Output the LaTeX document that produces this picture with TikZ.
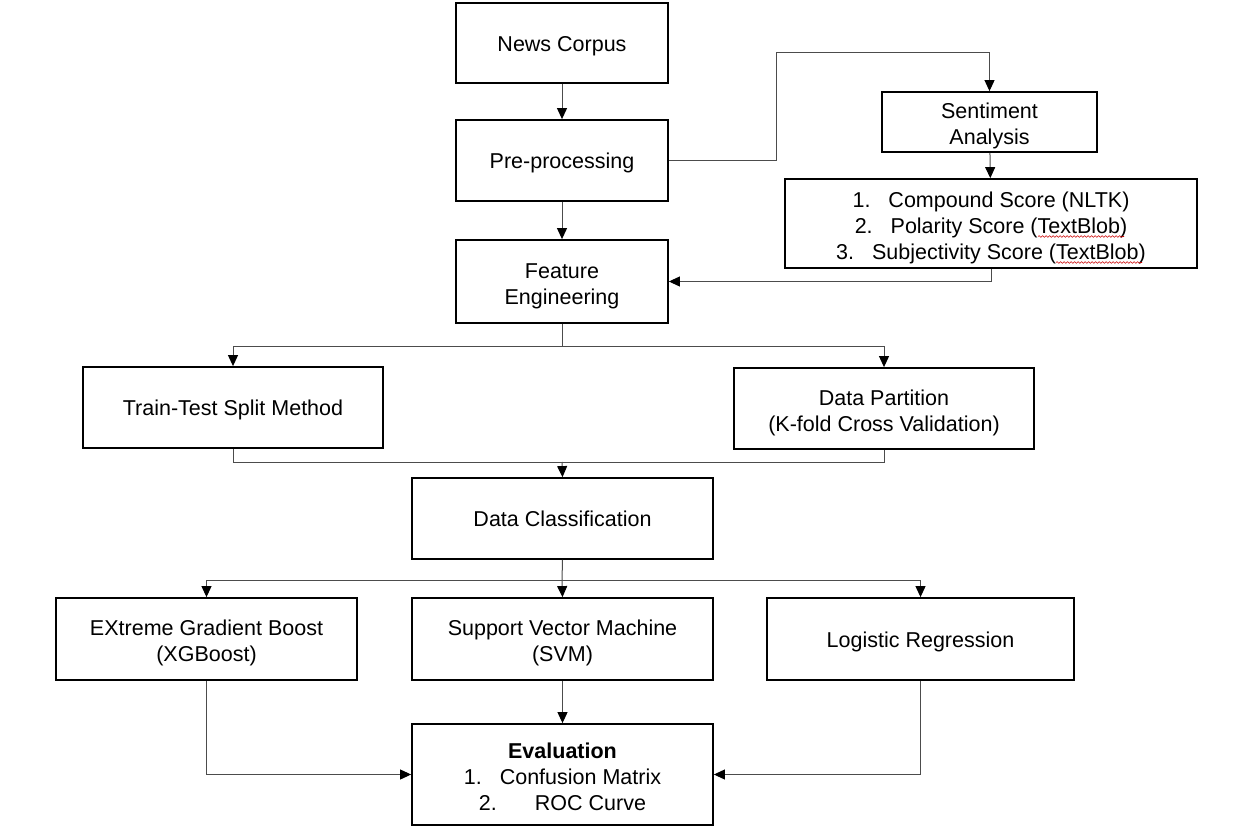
\documentclass[tikz,border=0pt]{standalone}
\usepackage{fontspec}
\setmainfont{Liberation Sans}
\usetikzlibrary{arrows.meta,decorations.pathmorphing}
\newcommand{\boxstrut}{\rule[-4.6pt]{0pt}{25.6pt}}
\newcommand{\topstrut}{\rule{0pt}{24pt}}
\begin{document}
\begin{tikzpicture}[x=1pt,y=-1pt,
  box/.style={draw=black,line width=1.8pt,inner sep=0pt,align=center,
    font=\fontsize{21.5}{26}\selectfont,
    execute at begin node=\boxstrut, execute at end node=\boxstrut},
  wire/.style={line width=1pt,draw=black!70},
  conn/.style={wire,-{Triangle[length=11pt,width=10pt,color=black,fill=black]}},
  squiggle/.style={draw=red!80!black,line width=0.6pt,decorate,
    decoration={snake,amplitude=0.8pt,segment length=3.5pt}}]
\useasboundingbox (0,0) rectangle (1239,829);
\fill[white] (0,0) rectangle (1239,829);

\node[box,minimum width=212pt,minimum height=80pt] (news) at (562,43) {News Corpus};
\node[box,minimum width=212pt,minimum height=81pt] (pre) at (562,160.5) {Pre-processing};
\node[box,minimum width=212pt,minimum height=83pt] (feat) at (562,281.5) {\topstrut Feature\\Engineering};
\node[box,minimum width=215pt,minimum height=60pt] (sent) at (989.5,122) {\topstrut Sentiment\\Analysis};
\node[box,minimum width=412pt,minimum height=89pt] (list) at (991,223.5)
  {\topstrut 1.\hspace{18pt}Compound Score (NLTK)\\2.\hspace{18pt}Polarity Score (TextBlob)\\3.\hspace{18pt}Subjectivity Score (TextBlob)};
\node[box,minimum width=300pt,minimum height=81pt] (train) at (233,407.5) {Train-Test Split Method};
\node[box,minimum width=300pt,minimum height=81pt] (part) at (884,408.5) {\topstrut Data Partition\\(K-fold Cross Validation)};
\node[box,minimum width=301pt,minimum height=81pt] (cls) at (562.5,518.5) {Data Classification};
\node[box,minimum width=301pt,minimum height=82pt] (xgb) at (206.5,639) {\topstrut EXtreme Gradient Boost\\(XGBoost)};
\node[box,minimum width=301pt,minimum height=82pt] (svm) at (562.5,639) {\topstrut Support Vector Machine\\(SVM)};
\node[box,minimum width=307pt,minimum height=82pt] (log) at (920.5,639) {Logistic Regression};
\node[box,minimum width=301pt,minimum height=101pt] (eval) at (562.5,774.5)
  {\topstrut\textbf{Evaluation}\\1.\hspace{18pt}Confusion Matrix\\2.\hspace{38pt}ROC Curve};

% spell-check marks
\draw[squiggle] (1038,236.5) -- (1124,236.5);
\draw[squiggle] (1056,262.5) -- (1142,262.5);

\coordinate (t1) at (776,53);
\coordinate (b1) at (562,346);
\coordinate (b2) at (562,462);
\coordinate (b3) at (562,580);

\draw[conn] (news) -- (pre);
\draw[conn] (pre) -- (feat);
\draw[wire] (pre.east) -| (t1);
\draw[conn] (t1) -| (sent.north);
\draw[conn] (sent) -- (list);
\draw[conn] (list.south) |- (feat.east);

\draw[wire] (feat.south) -- (b1);
\draw[conn] (b1) -| (train.north);
\draw[conn] (b1) -| (part.north);

\draw[wire] (train.south) |- (b2);
\draw[wire] (part.south) |- (b2);
\draw[conn] (b2) -- (cls.north);

\draw[wire] (cls.south) -- (b3);
\draw[conn] (b3) -| (xgb.north);
\draw[conn] (b3) -- (svm.north);
\draw[conn] (b3) -| (log.north);

\draw[conn] (xgb.south) |- (eval.west);
\draw[conn] (svm) -- (eval);
\draw[conn] (log.south) |- (eval.east);
\end{tikzpicture}
\end{document}
